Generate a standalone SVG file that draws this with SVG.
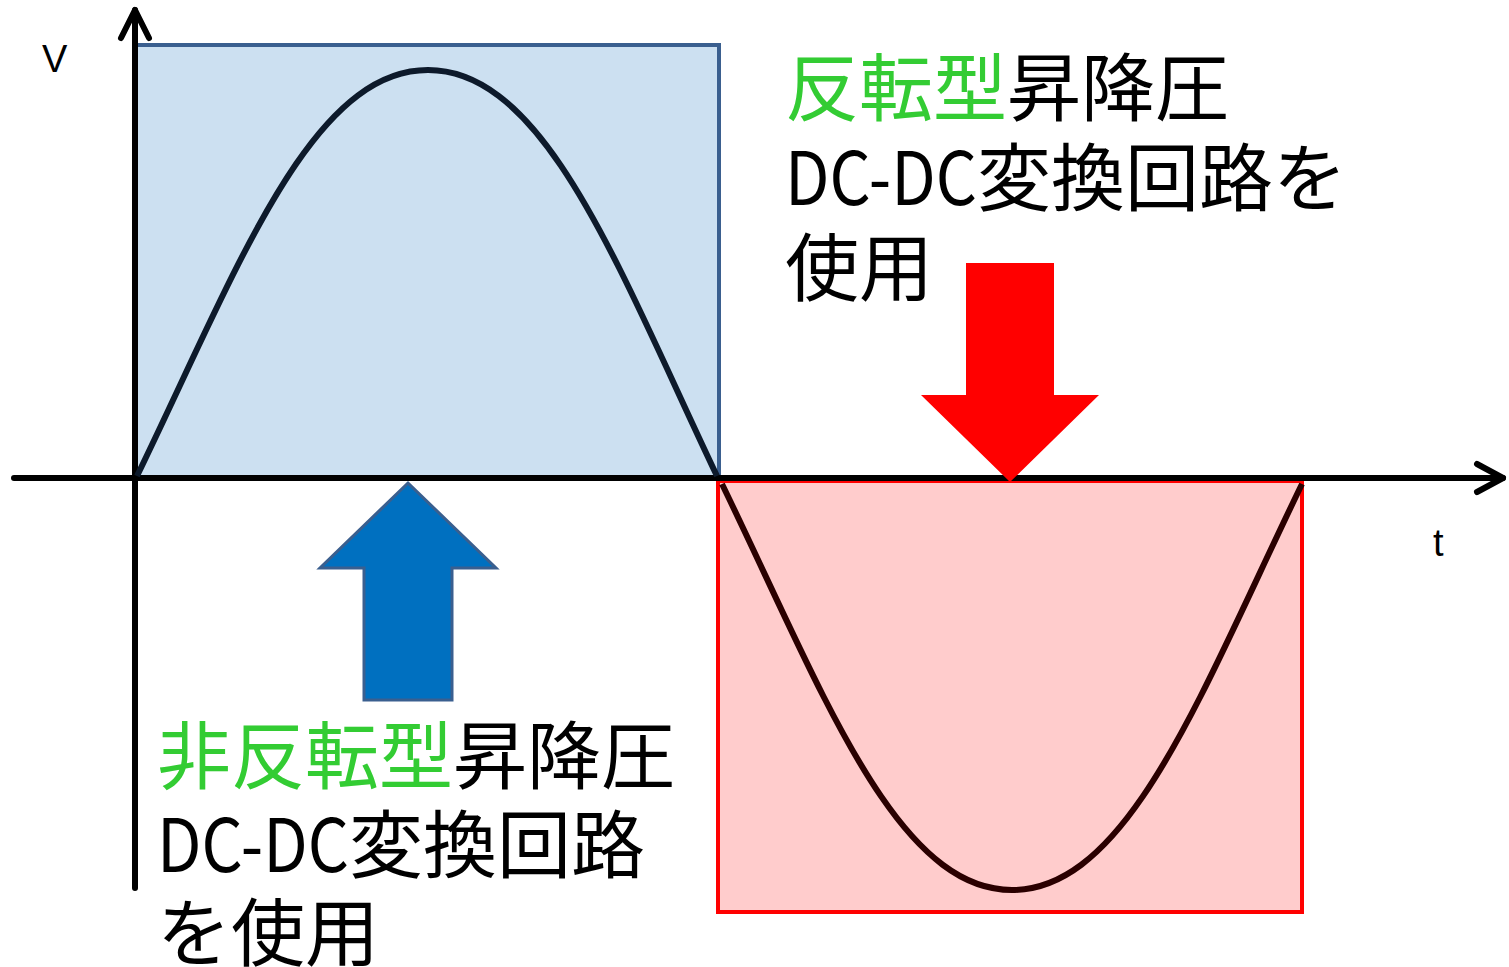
<svg xmlns="http://www.w3.org/2000/svg" width="1509" height="967" viewBox="0 0 1509 967">
<style>
.lbl{font-family:"Noto Sans CJK JP","Noto Sans",sans-serif;font-size:74px;fill:#000}
.g{fill:#33cc33}
.ax{fill:none;stroke:#000;stroke-width:6;stroke-linecap:round;stroke-linejoin:round}
</style>
<rect width="1509" height="967" fill="#fff"/>
<g id="posBox"><rect x="135" y="45" width="584" height="433" fill="#cce0f1" stroke="#3a5f8f" stroke-width="4"/></g>
<g id="negBox"><rect x="718" y="481" width="584" height="431" fill="#ffcccc" stroke="#ff0000" stroke-width="4"/></g>
<g id="axes">
<line x1="135" y1="888" x2="135" y2="10" class="ax"/>
<polyline points="121,38 135,10 149,38" class="ax"/>
<line x1="14" y1="478" x2="1503" y2="478" class="ax"/>
<polyline points="1477,464 1503,478 1477,492" class="ax"/>
</g>
<g id="curves">
<path d="M137,476 C237,270 310,70 428,70 C546,70 619,270 717,476" fill="none" stroke="#0d1a2b" stroke-width="6"/>
<path d="M722,484 C822,690 895,890 1012,890 C1129,890 1202,690 1302,484" fill="none" stroke="#2a0000" stroke-width="6"/>
</g>
<g id="blueArrow"><polygon points="408,483 496,568 452,568 452,700 364,700 364,568 320,568" fill="#0070c0" stroke="#3a5f8f" stroke-width="3"/></g>
<g id="redArrow"><polygon points="966,263 1054,263 1054,395 1099,395 1010,482 921,395 966,395" fill="#ff0000"/></g>
<g id="labelV"><text x="42" y="72" font-family="Liberation Sans,sans-serif" font-size="38">V</text></g>
<g id="labelT"><text x="1433" y="556" font-family="Liberation Sans,sans-serif" font-size="38">t</text></g>
<g id="labelInv">
<text class="lbl" x="785" y="115"><tspan class="g">反転型</tspan>昇降圧</text>
<text class="lbl" x="785" y="205"><tspan textLength="192" lengthAdjust="spacingAndGlyphs">DC-DC</tspan>変換回路を</text>
<text class="lbl" x="785" y="295">使用</text>
</g>
<g id="labelNonInv">
<text class="lbl" x="157" y="783"><tspan class="g">非反転型</tspan>昇降圧</text>
<text class="lbl" x="157" y="872"><tspan textLength="192" lengthAdjust="spacingAndGlyphs">DC-DC</tspan>変換回路</text>
<text class="lbl" x="157" y="960">を使用</text>
</g>
</svg>
